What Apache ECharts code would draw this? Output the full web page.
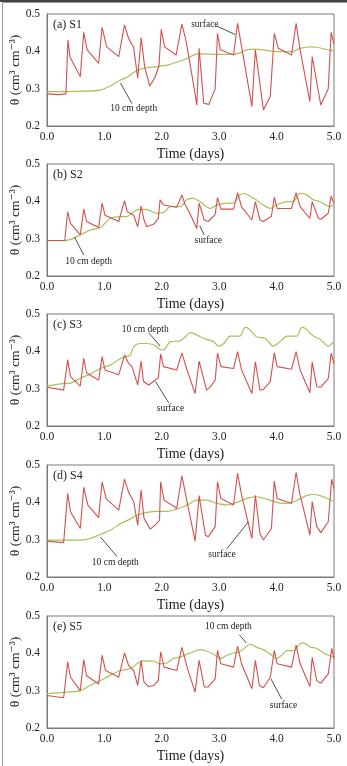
<!DOCTYPE html>
<html>
<head>
<meta charset="utf-8">
<script src="https://cdn.jsdelivr.net/npm/echarts@6/dist/echarts.min.js"></script>
<style>
  html, body { margin: 0; padding: 0; background: #fff; }
  #main { width: 347px; height: 766px; }
</style>
</head>
<body>
<div id="main"></div>
<script>
// axis ticks
var timeTicks = [0, 1, 2, 3, 4, 5];
var thetaTicks = [0.2, 0.3, 0.4, 0.5];
var panelLabels = ['(a) S1', '(b) S2', '(c) S3', '(d) S4', '(e) S5'];

// [time (days), theta]
var s1Surface = [[0,0.286],[0.2,0.284],[0.33,0.286],[0.365,0.43],[0.40,0.385],[0.45,0.37],[0.58,0.332],[0.64,0.451],[0.70,0.404],[0.90,0.368],[0.96,0.464],[1.04,0.412],[1.25,0.386],[1.35,0.471],[1.42,0.435],[1.51,0.41],[1.58,0.328],[1.64,0.437],[1.70,0.36],[1.79,0.307],[1.88,0.33],[1.95,0.36],[1.99,0.459],[2.05,0.412],[2.25,0.39],[2.35,0.473],[2.42,0.43],[2.55,0.314],[2.61,0.256],[2.65,0.408],[2.73,0.261],[2.82,0.258],[2.93,0.30],[2.97,0.448],[3.02,0.404],[3.25,0.39],[3.32,0.475],[3.40,0.404],[3.57,0.252],[3.63,0.404],[3.77,0.243],[3.89,0.28],[3.96,0.448],[4.03,0.408],[4.26,0.39],[4.34,0.475],[4.41,0.404],[4.58,0.265],[4.62,0.386],[4.77,0.256],[4.90,0.30],[4.95,0.451],[5.0,0.42]];
var s1Depth = [[0,0.292],[0.5,0.293],[0.93,0.296],[1.10,0.307],[1.28,0.323],[1.39,0.33],[1.51,0.343],[1.62,0.352],[1.74,0.356],[1.91,0.359],[2.09,0.363],[2.20,0.368],[2.32,0.374],[2.44,0.381],[2.55,0.39],[2.67,0.393],[2.96,0.392],[3.25,0.392],[3.36,0.396],[3.48,0.404],[3.60,0.406],[3.77,0.404],[3.94,0.40],[4.12,0.399],[4.29,0.40],[4.41,0.408],[4.58,0.412],[4.70,0.411],[4.87,0.405],[5.0,0.402]];

var s2Surface = [[0,0.295],[0.31,0.295],[0.36,0.372],[0.41,0.341],[0.58,0.31],[0.64,0.379],[0.69,0.346],[0.90,0.33],[0.96,0.396],[1.01,0.363],[1.25,0.346],[1.35,0.402],[1.40,0.372],[1.51,0.363],[1.58,0.332],[1.64,0.387],[1.69,0.35],[1.74,0.332],[1.86,0.339],[1.94,0.355],[1.97,0.404],[2.03,0.39],[2.26,0.384],[2.35,0.417],[2.41,0.39],[2.48,0.37],[2.61,0.327],[2.65,0.395],[2.74,0.35],[2.81,0.346],[2.93,0.365],[2.97,0.41],[3.03,0.379],[3.25,0.379],[3.32,0.423],[3.39,0.385],[3.57,0.35],[3.63,0.399],[3.71,0.35],[3.77,0.346],[3.91,0.36],[3.96,0.411],[4.01,0.381],[4.26,0.381],[4.34,0.423],[4.41,0.386],[4.58,0.354],[4.62,0.399],[4.73,0.354],[4.77,0.352],[4.90,0.368],[4.95,0.414],[5.0,0.395]];
var s2Depth = [[0,0.295],[0.32,0.295],[0.41,0.298],[0.58,0.31],[0.75,0.323],[0.93,0.33],[1.10,0.354],[1.28,0.359],[1.39,0.359],[1.51,0.372],[1.62,0.379],[1.74,0.378],[1.91,0.368],[2.03,0.37],[2.15,0.386],[2.32,0.386],[2.44,0.405],[2.55,0.408],[2.67,0.399],[2.84,0.381],[2.96,0.39],[3.13,0.395],[3.25,0.396],[3.36,0.417],[3.42,0.421],[3.60,0.408],[3.77,0.39],[3.89,0.381],[4.0,0.39],[4.18,0.399],[4.29,0.399],[4.41,0.421],[4.52,0.418],[4.64,0.404],[4.76,0.399],[4.93,0.386],[5.0,0.39]];

var s3Surface = [[0,0.304],[0.29,0.296],[0.32,0.296],[0.36,0.377],[0.41,0.332],[0.58,0.307],[0.64,0.381],[0.69,0.342],[0.90,0.323],[0.96,0.386],[1.01,0.35],[1.25,0.337],[1.35,0.39],[1.42,0.368],[1.48,0.359],[1.58,0.31],[1.64,0.374],[1.68,0.32],[1.77,0.31],[1.86,0.32],[1.94,0.329],[1.98,0.393],[2.03,0.359],[2.26,0.35],[2.35,0.396],[2.44,0.35],[2.58,0.287],[2.65,0.374],[2.78,0.296],[2.84,0.304],[2.93,0.323],[2.97,0.395],[3.03,0.359],[3.25,0.354],[3.32,0.399],[3.39,0.35],[3.57,0.287],[3.63,0.372],[3.71,0.296],[3.77,0.298],[3.89,0.319],[3.96,0.396],[4.01,0.359],[4.26,0.352],[4.34,0.399],[4.41,0.35],[4.58,0.289],[4.62,0.372],[4.70,0.305],[4.77,0.304],[4.90,0.327],[4.95,0.395],[5.0,0.368]];
var s3Depth = [[0,0.307],[0.29,0.314],[0.41,0.315],[0.58,0.328],[0.75,0.339],[0.93,0.354],[1.10,0.363],[1.28,0.381],[1.39,0.387],[1.45,0.39],[1.51,0.412],[1.62,0.421],[1.74,0.421],[1.86,0.417],[1.97,0.405],[2.03,0.404],[2.15,0.426],[2.32,0.428],[2.41,0.439],[2.49,0.45],[2.55,0.448],[2.67,0.439],[2.78,0.432],[2.90,0.426],[2.99,0.414],[3.08,0.421],[3.19,0.441],[3.36,0.441],[3.45,0.464],[3.51,0.461],[3.65,0.439],[3.80,0.435],[3.94,0.414],[4.06,0.426],[4.18,0.441],[4.35,0.441],[4.44,0.464],[4.50,0.461],[4.64,0.441],[4.76,0.432],[4.90,0.414],[5.0,0.426]];

var s4Surface = [[0,0.296],[0.29,0.292],[0.32,0.294],[0.36,0.424],[0.41,0.375],[0.58,0.33],[0.64,0.44],[0.71,0.393],[0.90,0.359],[0.96,0.455],[1.03,0.41],[1.25,0.379],[1.35,0.462],[1.42,0.428],[1.51,0.402],[1.58,0.339],[1.64,0.433],[1.69,0.357],[1.80,0.328],[1.91,0.343],[1.96,0.352],[1.98,0.455],[2.04,0.406],[2.26,0.384],[2.35,0.471],[2.44,0.402],[2.58,0.296],[2.65,0.418],[2.76,0.312],[2.81,0.308],[2.93,0.335],[2.97,0.455],[3.03,0.41],[3.25,0.393],[3.32,0.478],[3.39,0.419],[3.57,0.303],[3.63,0.419],[3.71,0.316],[3.77,0.299],[3.91,0.33],[3.96,0.457],[4.01,0.41],[4.26,0.397],[4.34,0.48],[4.41,0.419],[4.58,0.312],[4.62,0.402],[4.70,0.335],[4.77,0.319],[4.90,0.348],[4.96,0.462],[5.0,0.437]];
var s4Depth = [[0,0.299],[0.58,0.299],[0.75,0.303],[0.93,0.314],[1.10,0.325],[1.28,0.343],[1.45,0.355],[1.57,0.366],[1.74,0.373],[1.91,0.376],[2.09,0.376],[2.26,0.382],[2.38,0.388],[2.49,0.397],[2.61,0.406],[2.78,0.406],[2.96,0.397],[3.13,0.393],[3.25,0.397],[3.36,0.403],[3.51,0.412],[3.65,0.415],[3.77,0.411],[3.94,0.403],[4.12,0.397],[4.29,0.401],[4.41,0.41],[4.52,0.418],[4.64,0.421],[4.76,0.418],[4.90,0.409],[5.0,0.403]];

var s5Surface = [[0,0.287],[0.29,0.281],[0.32,0.282],[0.36,0.377],[0.41,0.336],[0.58,0.30],[0.64,0.383],[0.69,0.34],[0.90,0.318],[0.96,0.395],[1.02,0.354],[1.25,0.336],[1.35,0.401],[1.42,0.368],[1.51,0.354],[1.58,0.314],[1.64,0.381],[1.69,0.323],[1.77,0.311],[1.86,0.314],[1.94,0.327],[1.98,0.404],[2.04,0.363],[2.26,0.354],[2.35,0.416],[2.44,0.363],[2.58,0.296],[2.65,0.381],[2.74,0.31],[2.81,0.31],[2.93,0.332],[2.97,0.408],[3.03,0.372],[3.25,0.363],[3.32,0.419],[3.39,0.372],[3.57,0.305],[3.63,0.381],[3.70,0.314],[3.77,0.308],[3.89,0.336],[3.96,0.408],[4.01,0.372],[4.26,0.363],[4.34,0.422],[4.41,0.372],[4.58,0.311],[4.62,0.389],[4.70,0.327],[4.77,0.32],[4.90,0.345],[4.96,0.413],[5.0,0.386]];
var s5Depth = [[0,0.292],[0.35,0.296],[0.58,0.30],[0.75,0.314],[0.93,0.327],[1.10,0.341],[1.28,0.354],[1.45,0.359],[1.57,0.372],[1.68,0.38],[1.86,0.379],[1.97,0.372],[2.09,0.374],[2.20,0.386],[2.32,0.39],[2.44,0.398],[2.55,0.404],[2.67,0.41],[2.76,0.407],[2.90,0.398],[3.02,0.386],[3.13,0.395],[3.25,0.401],[3.36,0.404],[3.48,0.419],[3.54,0.425],[3.65,0.416],[3.77,0.41],[3.89,0.398],[4.0,0.386],[4.09,0.395],[4.18,0.407],[4.29,0.407],[4.41,0.426],[4.47,0.428],[4.58,0.417],[4.70,0.413],[4.84,0.399],[5.0,0.39]];

var surfaceSets = [s1Surface, s2Surface, s3Surface, s4Surface, s5Surface];
var depthSets = [s1Depth, s2Depth, s3Depth, s4Depth, s5Depth];

// callouts per panel, in data units: text spot, arrow start, arrow tip
var notes = [
  [{ text: 'surface', at: [2.75, 0.473], from: [2.95, 0.468], to: [3.28, 0.445] },
   { text: '10 cm depth', at: [1.51, 0.247], from: [1.48, 0.26], to: [1.28, 0.315] }],
  [{ text: 'surface', at: [2.81, 0.295], from: [2.74, 0.31], to: [2.66, 0.334] },
   { text: '10 cm depth', at: [0.725, 0.238], from: [0.64, 0.256], to: [0.48, 0.304] }],
  [{ text: '10 cm depth', at: [1.71, 0.459], from: [1.77, 0.45], to: [1.97, 0.414] },
   { text: 'surface', at: [2.15, 0.247], from: [2.12, 0.262], to: [1.89, 0.319] }],
  [{ text: '10 cm depth', at: [1.19, 0.239], from: [1.22, 0.255], to: [0.93, 0.307] },
   { text: 'surface', at: [3.05, 0.26], from: [3.13, 0.275], to: [3.51, 0.348] }],
  [{ text: '10 cm depth', at: [3.16, 0.471], from: [3.35, 0.45], to: [3.47, 0.428] },
   { text: 'surface', at: [4.12, 0.26], from: [4.09, 0.277], to: [3.9, 0.332] }]
];

var FONT = '"Liberation Serif", "DejaVu Serif", serif';
var RED = '#d4504e';
var GREEN = '#a7c159';
var panelTops = [14, 164, 314, 465, 616];

var myChart = echarts.init(document.getElementById('main'));

var grids = [], xAxes = [], yAxes = [], series = [], graphics = [];

panelTops.forEach(function (top, i) {
    grids.push({
        left: 47, width: 287, top: top, height: 112,
        outerBoundsMode: 'none', containLabel: false,
        show: true, borderColor: '#7a7a7a', borderWidth: 1, backgroundColor: '#fff'
    });
    xAxes.push({
        type: 'value', gridIndex: i,
        min: timeTicks[0], max: timeTicks[timeTicks.length - 1], interval: 1,
        name: 'Time (days)', nameLocation: 'middle', nameGap: 21,
        nameTextStyle: { fontFamily: FONT, fontSize: 14, color: '#222' },
        axisLine: { onZero: false, lineStyle: { color: '#7a7a7a', width: 1 } },
        axisTick: { show: false },
        splitLine: { show: false },
        axisLabel: {
            fontFamily: FONT, fontSize: 11.5, color: '#222', margin: 5,
            formatter: function (v) { return v.toFixed(1); }
        }
    });
    yAxes.push({
        type: 'value', gridIndex: i,
        min: thetaTicks[0], max: thetaTicks[thetaTicks.length - 1], interval: 0.1,
        axisLine: { show: true, onZero: false, lineStyle: { color: '#7a7a7a', width: 1 } },
        axisTick: { show: false },
        splitLine: { show: false },
        axisLabel: {
            fontFamily: FONT, fontSize: 11.5, color: '#222', margin: 7,
            formatter: function (v) { return v.toFixed(1); }
        }
    });

    var arrows = notes[i].map(function (n) {
        return [{ coord: n.from }, { coord: n.to }];
    });
    var texts = notes[i].map(function (n) {
        return { name: n.text, coord: n.at };
    });

    series.push({
        name: 'surface', type: 'line', xAxisIndex: i, yAxisIndex: i,
        data: surfaceSets[i], showSymbol: false, symbol: 'none',
        lineStyle: { color: RED, width: 1.1 },
        z: 3,
        markLine: {
            silent: true, symbol: ['none', 'arrow'], symbolSize: [0, 5],
            label: { show: false },
            lineStyle: { color: '#222', width: 0.8, type: 'solid' },
            data: arrows
        },
        markPoint: {
            silent: true, symbol: 'rect', symbolSize: 1,
            itemStyle: { color: 'rgba(0,0,0,0)' },
            label: {
                show: true, position: 'inside', fontFamily: FONT, fontSize: 9.5, color: '#222',
                formatter: function (p) { return p.name; }
            },
            data: texts
        }
    });
    series.push({
        name: '10 cm depth', type: 'line', xAxisIndex: i, yAxisIndex: i,
        data: depthSets[i], showSymbol: false, symbol: 'none', smooth: 0.3,
        lineStyle: { color: GREEN, width: 1.2 },
        z: 2
    });

    // panel tag and rotated y title
    graphics.push({
        type: 'text', left: 53, top: top + 5,
        style: { text: panelLabels[i], font: '12px ' + FONT, fill: '#222' }
    });
    graphics.push({
        type: 'text', x: 15, y: top + 56, rotation: Math.PI / 2,
        style: { text: 'θ (cm³ cm⁻³)', font: '13.5px ' + FONT, fill: '#222',
                 align: 'center', verticalAlign: 'middle' }
    });
});

// thin frame round the whole figure
graphics.push({ type: 'rect', left: 0, top: 0, shape: { width: 346, height: 765 },
    style: { fill: 'none', stroke: '#9a9a9a', lineWidth: 1 }, silent: true });
graphics.push({ type: 'line', shape: { x1: 0, y1: 1, x2: 347, y2: 1 },
    style: { stroke: '#444', lineWidth: 2 }, silent: true });

myChart.setOption({
    animation: false,
    backgroundColor: '#fff',
    grid: grids,
    xAxis: xAxes,
    yAxis: yAxes,
    series: series,
    graphic: graphics
});
</script>
</body>
</html>
